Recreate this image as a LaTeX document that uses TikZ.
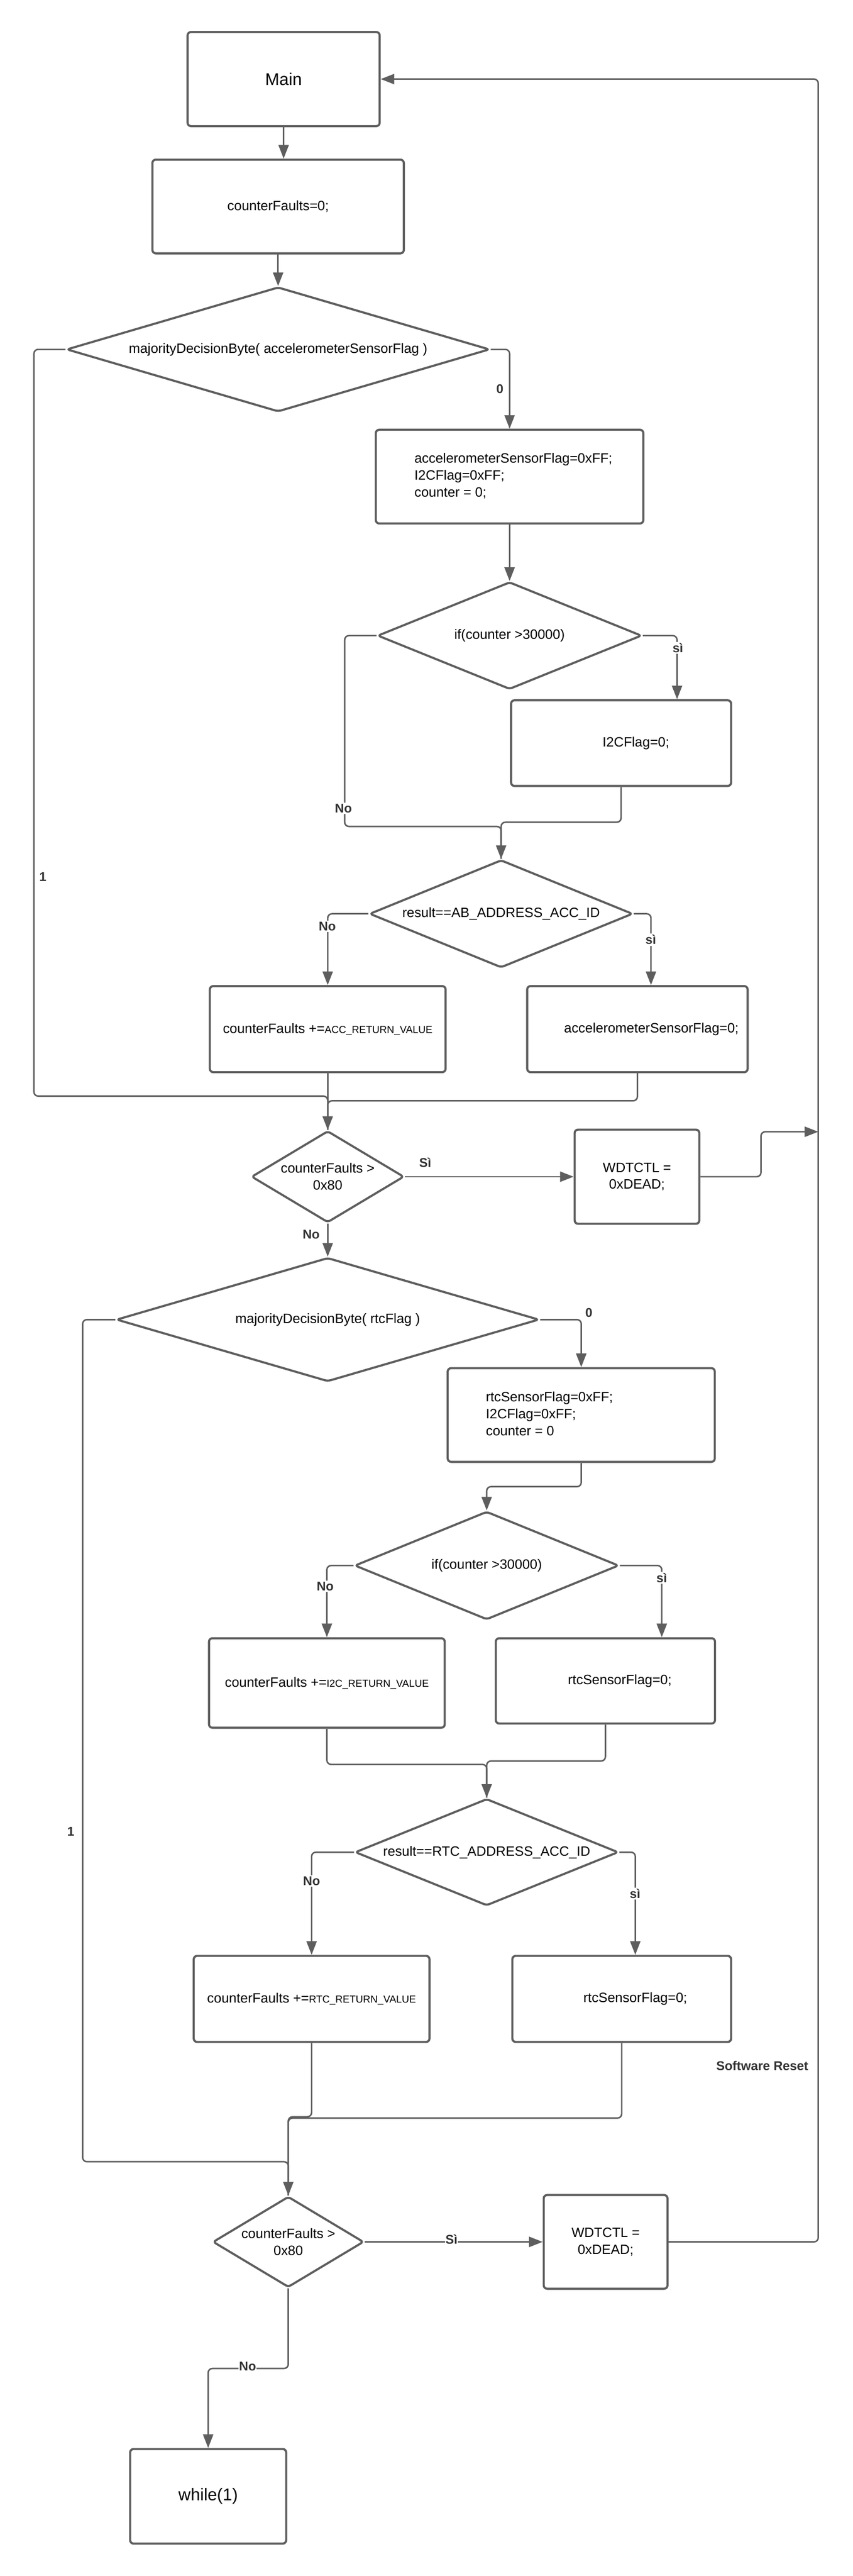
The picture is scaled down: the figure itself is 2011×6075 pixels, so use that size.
\documentclass[tikz,border=0pt]{standalone}
\usepackage{fontspec}
\setmainfont{Liberation Sans}
\usetikzlibrary{shapes.geometric,arrows.meta}
\definecolor{strokegray}{HTML}{5E5E5E}
\definecolor{labelgray}{HTML}{333333}
\newcommand\fcBody{\fontsize{32}{40}\selectfont}
\newcommand\fcSmall{\fontsize{24}{30}\selectfont}
\newcommand\fcBig{\fontsize{40}{48}\selectfont}
\newcommand\fcLab{\fontsize{30}{36}\selectfont\bfseries}
\tikzset{
  box/.style={draw=strokegray, line width=5pt, rounded corners=8pt, fill=white, inner sep=0pt, font=\fcBody, text=black},
  dec/.style={draw=strokegray, line width=5pt, diamond, rounded corners=7pt, fill=white, inner sep=0pt, font=\fcBody, text=black, align=center},
  conn/.style={draw=strokegray, line width=3.5pt, rounded corners=10pt},
  arr/.style={conn, -{Triangle[length=32pt,width=24pt]}},
  lab/.style={font=\fcLab, text=labelgray, inner sep=3pt},
  labw/.style={lab, fill=white}
}
\begin{document}
\begin{tikzpicture}[x=1pt,y=-1pt]
\useasboundingbox (0,0) rectangle (2011,6075);
\fill[white] (0,0) rectangle (2011,6075);

% ---- nodes ----
\node[box, font=\fcBig, minimum width=453pt, minimum height=222pt] (main) at (669,186.5) {Main};
\node[box, minimum width=593pt, minimum height=221pt] (cf0) at (656,487) {counterFaults=0;};
\node[dec, aspect=3.4, minimum width=998pt, minimum height=294pt] (d1) at (656,824) {majorityDecisionByte( accelerometerSensorFlag )};
\node[box, minimum width=631pt, minimum height=221pt] (acc) at (1202,1124) {\begin{tabular}{@{\hspace{18pt}}l@{}}accelerometerSensorFlag=0xFF;\\I2CFlag=0xFF;\\counter = 0;\end{tabular}};
\node[dec, aspect=2.46, minimum width=623pt, minimum height=253pt] (d2) at (1202,1499) {if(counter >30000)};
\node[box, minimum width=519pt, minimum height=202pt] (i2c) at (1465,1752.5) {\hspace*{70pt}I2CFlag=0;};
\node[dec, aspect=2.44, minimum width=621pt, minimum height=254pt] (d3) at (1182,2155) {result==AB\_ADDRESS\_ACC\_ID};
\node[box, minimum width=556pt, minimum height=203pt] (cfacc) at (773,2427) {counterFaults +={\fcSmall ACC\_RETURN\_VALUE}};
\node[box, minimum width=520pt, minimum height=203pt] (acz) at (1503.5,2427) {\hspace*{66pt}accelerometerSensorFlag=0;};
\node[dec, aspect=1.67, minimum width=360pt, minimum height=216pt] (d4) at (773,2775) {counterFaults >\\0x80};
\node[box, align=center, minimum width=294pt, minimum height=222pt] (wdt1) at (1502.5,2775) {WDTCTL =\\0xDEAD;};
\node[dec, aspect=3.41, minimum width=997pt, minimum height=292pt] (d5) at (773,3112) {majorityDecisionByte( rtcFlag )};
\node[box, minimum width=630pt, minimum height=221pt] (rtc) at (1371,3337) {\begin{tabular}{@{}l@{\hspace{150pt}}}rtcSensorFlag=0xFF;\\I2CFlag=0xFF;\\counter = 0\end{tabular}};
\node[dec, aspect=2.44, minimum width=623pt, minimum height=255pt] (d6) at (1148,3692) {if(counter >30000)};
\node[box, minimum width=556pt, minimum height=211pt] (cfi2c) at (771,3969) {counterFaults +={\fcSmall I2C\_RETURN\_VALUE}};
\node[box, minimum width=517pt, minimum height=201pt] (rtcz) at (1428,3964) {\hspace*{68pt}rtcSensorFlag=0;};
\node[dec, aspect=2.46, minimum width=621pt, minimum height=252pt] (d7) at (1148,4368) {result==RTC\_ADDRESS\_ACC\_ID};
\node[box, minimum width=556pt, minimum height=203pt] (cfrtc) at (735,4714) {counterFaults +={\fcSmall RTC\_RETURN\_VALUE}};
\node[box, minimum width=516pt, minimum height=203pt] (rtcz2) at (1466.5,4714) {\hspace*{64pt}rtcSensorFlag=0;};
\node[dec, aspect=1.66, minimum width=356pt, minimum height=214pt] (d8) at (680,5287) {counterFaults >\\0x80};
\node[box, align=center, minimum width=292pt, minimum height=221pt] (wdt2) at (1428.5,5287) {WDTCTL =\\0xDEAD;};
\node[box, font=\fcBig, minimum width=368pt, minimum height=223pt] (while) at (491,5887) {while(1)};

\coordinate (loopA) at (1930,2669);
\coordinate (loopTop) at (1930,186.5);

% ---- connectors ----
\draw[arr] (main.south) -- (main.south |- cf0.north);
\draw[arr] (cf0.south) -- (d1.north);
\draw[arr] (d1.east) -| (acc.north);
\draw[arr] (acc.south) -- (d2.north);
\draw[arr] (d2.east) -| ([xshift=132pt]i2c.north);
\draw[conn] (d2.west) -| (813,1949) -| (d3.north);
\draw[arr] (i2c.south) -- ++(0,83) -| (d3.north);
\draw[arr] (d3.west) -| (cfacc.north);
\draw[arr] (d3.east) -| ([xshift=32pt]acz.north);
\draw[conn] (d1.west) -| (80,2585) -| (d4.north);
\draw[conn] (acz.south) -- ++(0,65) -| (d4.north);
\draw[arr] (cfacc.south) -- (d4.north);
\draw[arr] (d4.east) -- (wdt1.west);
\draw[arr] (wdt1.east) -- (1795,2775) |- (loopA);
\draw[arr] (wdt2.east) -| (loopTop) -- (main.east);
\draw[arr] (d4.south) -- (d5.north);
\draw[arr] (d5.east) -| (rtc.north);
\draw[arr] (rtc.south) -- ++(0,56) -| (d6.north);
\draw[arr] (d6.west) -| (cfi2c.north);
\draw[arr] (d6.east) -| ([xshift=133pt]rtcz.north);
\draw[conn] (cfi2c.south) -- ++(0,84) -| (d7.north);
\draw[arr] (rtcz.south) -- ++(0,86) -| (d7.north);
\draw[arr] (d7.west) -| (cfrtc.north);
\draw[arr] (d7.east) -| ([xshift=32pt]rtcz2.north);
\draw[conn] (d5.west) -| (195,5098) -| (d8.north);
\draw[conn] (cfrtc.south) -- ++(0,174) -| (d8.north);
\draw[arr] (rtcz2.south) -- ++(0,177) -| (d8.north);
\draw[arr] (d8.east) -- (wdt2.west);
\draw[arr] (d8.south) -- ++(0,189) -| (while.north);

% ---- labels ----
\node[lab] (l0a) at (1179,917) {0};
\node[labw] (lsi1) at (1599,1528) {sì};
\node[labw] (lno1) at (810,1906) {No};
\node[labw] (lno2) at (772,2185) {No};
\node[labw] (lsi2) at (1535,2216) {sì};
\node[lab] (l1a) at (101,2068) {1};
\node[lab] (lsi3) at (1003,2742) {Sì};
\node[lab] (lno3) at (734,2911) {No};
\node[lab] (l0b) at (1389,3096) {0};
\node[labw] (lno4) at (767,3741) {No};
\node[labw] (lsi4) at (1561,3721) {sì};
\node[labw] (lno5) at (735,4436) {No};
\node[labw] (lsi5) at (1498,4466) {sì};
\node[lab] (l1b) at (167,4319) {1};
\node[lab] (lsr) at (1798,4872) {Software Reset};
\node[labw, inner sep=1pt] (lsi6) at (1065,5281) {Sì};
\node[labw, inner sep=1pt] (lno6) at (584,5581) {No};
\end{tikzpicture}
\end{document}
